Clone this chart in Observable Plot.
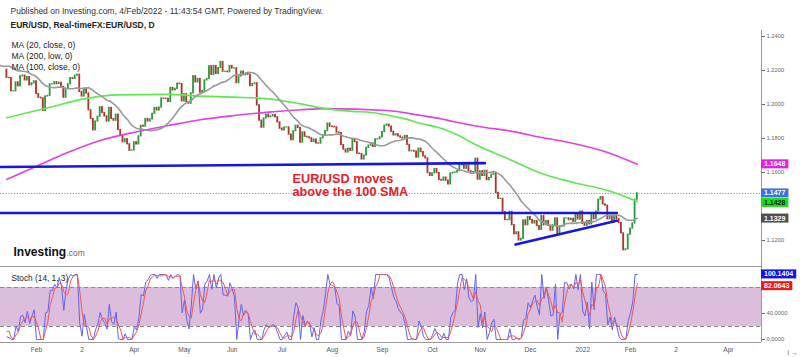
<!DOCTYPE html>
<html><head><meta charset="utf-8">
<script src="https://cdn.jsdelivr.net/npm/d3@7"></script>
<script src="https://cdn.jsdelivr.net/npm/@observablehq/plot@0.6"></script>
<style>
body{margin:0;background:#fff;}
#chart{width:800px;height:357px;position:relative;overflow:hidden;background:#fff}
#chart svg{display:block}
</style></head><body><div id="chart"></div>
<script>
// ---- data ----
const warmupCloses = [1.2150,1.2150,1.2195,1.2265,1.2255,1.2240,1.2165,1.2190,1.2185,1.2215,1.2250,1.2295,1.2215,1.2250,1.2295,1.2325,1.2270,1.2220,1.2150,1.2205];
const closes = [
 1.2157,1.2155,1.2078,1.2078,1.2130,1.2107,1.2166,1.2170,1.2142,1.2161,1.2113,1.2124,1.2136,
 1.2062,1.2040,1.2036,1.1962,1.2047,1.2051,1.2119,1.2119,1.2131,1.2120,1.2128,1.2104,1.2040,1.2092,1.2119,1.2155,1.2150,1.2170,1.2175,1.2074,
 1.2047,1.2092,1.2065,1.1966,1.1915,1.1848,1.1900,1.1928,1.1984,1.1950,1.1930,1.1900,1.1980,1.1915,1.1905,1.1940,1.1850,1.1815,1.1778,1.1796,1.1766,1.1728,1.1730,
 1.1778,1.1765,1.1813,1.1875,1.1870,1.1915,1.1900,1.1912,1.1945,1.1980,1.1965,1.1982,1.2035,1.2034,1.2033,1.2015,1.2097,1.2083,1.2092,1.2123,1.2120,1.2018,
 1.2060,1.2014,1.2005,1.2066,1.2166,1.2130,1.2150,1.2070,1.2080,1.2142,1.2150,1.2225,1.2175,1.2226,1.2180,1.2214,1.2250,1.2193,1.2193,1.2190,1.2227,
 1.2212,1.2213,1.2126,1.2165,1.2193,1.2172,1.2180,1.2175,1.2108,1.2120,1.2125,1.1995,1.1905,1.1864,1.1918,1.1940,1.1925,1.1930,1.1938,1.1925,1.1895,1.1858,
 1.1848,1.1865,1.1865,1.1823,1.1790,1.1843,1.1875,1.1862,1.1776,1.1836,1.1810,1.1807,1.1801,1.1780,1.1794,1.1771,1.1770,1.1801,1.1817,1.1844,1.1888,1.1870,
 1.1868,1.1866,1.1835,1.1832,1.1762,1.1735,1.1718,1.1740,1.1728,1.1793,1.1778,1.1711,1.1709,1.1677,1.1700,1.1745,1.1758,1.1770,1.1750,1.1795,1.1796,1.1807,
 1.1838,1.1875,1.1882,1.1870,1.1840,1.1818,1.1825,1.1812,1.1805,1.1800,1.1815,1.1763,1.1725,1.1727,1.1723,1.1688,1.1740,1.1720,1.1695,1.1683,1.1597,1.1580,
 1.1595,1.1620,1.1597,1.1556,1.1552,1.1570,1.1552,1.1530,1.1594,1.1598,1.1600,1.1608,1.1643,1.1650,1.1622,1.1642,1.1607,1.1600,1.1603,1.1681,1.1558,
 1.1607,1.1580,1.1610,1.1555,1.1568,1.1587,1.1594,1.1480,1.1445,1.1445,1.1367,1.1320,1.1320,1.1368,1.1290,1.1237,1.1248,1.1200,1.1210,1.1318,1.1290,1.1338,
 1.1320,1.1300,1.1315,1.1285,1.1263,1.1343,1.1290,1.1315,1.1286,1.1258,1.1290,1.1330,1.1240,1.1280,1.1283,1.1330,1.1330,1.1320,1.1328,1.1310,1.1350,1.1324,1.1370,
 1.1297,1.1287,1.1315,1.1295,1.1360,1.1325,1.1370,1.1440,1.1455,1.1412,1.1405,1.1325,1.1345,1.1312,1.1345,1.1326,1.1302,1.1242,1.1143,1.1148,1.1234,
 1.1270,1.1300,1.1440,1.1477
];
const ma100Idx = [0,19,34,49,70,85,100,115,129,140,152,160,174,182,191,199,205,220,235,249,264,277];
const ma100Val = [1.1922,1.1984,1.2033,1.2057,1.2059,1.2049,1.2043,1.2033,1.2004,1.1976,1.1960,1.1953,1.1918,1.1888,1.1859,1.1815,1.1770,1.1682,1.1594,1.1541,1.1494,1.1430];
const ma200Idx = [0,12,27,41,56,71,85,100,115,129,140,167,182,191,196,210,220,235,249,264,277];
const ma200Val = [1.1560,1.1631,1.1719,1.1788,1.1837,1.1876,1.1910,1.1935,1.1955,1.1969,1.1976,1.1965,1.1935,1.1915,1.1900,1.1865,1.1847,1.1806,1.1771,1.1718,1.1648];
const upperLineIdx = [-3, 210], upperLineVal = [1.1632, 1.1655];
const lowerLineIdx = [-3, 268], lowerLineVal = [1.1362, 1.1362];
const trendIdx = [223.5, 268], trendVal = [1.1176, 1.1316];
const tickMonths = ["2021-02","2021-03","2021-04","2021-05","2021-06","2021-07","2021-08","2021-09","2021-10","2021-11","2021-12","2022-01","2022-02","2022-03","2022-04"];
const tickLabels = ["Feb","2","Apr","May","Jun","Jul","Aug","Sep","Oct","Nov","Dec","2022","Feb","2","Apr"];
const priceTicks = [1.12,1.16,1.18,1.20,1.22,1.24];
const priceTags = ["1.1648","1.1477","1.1428","1.1329"];
const priceTagColors = ["#e61ee6","#3f6fe0","#12e312","#4f4f4f"];
const priceTagText = ["#fff","#fff","#111","#fff"];
const stochTicks = [0, 40];
const stochTags = ["100.1404","82.0643"];
const stochTagColors = ["#1212f0","#f01818"];

// ---- derived ----
const FONT = "'Liberation Sans', Arial, sans-serif";
const X_DOMAIN = [-2.81, 331.55];
const W = warmupCloses.length;
const allC = warmupCloses.concat(closes);
const allRows = allC.map((c, g) => ({i: g - W, c}));
const candles = closes.map((c, i) => ({i, o: allC[i + W - 1], c}));
const ma100 = ma100Idx.map((i, k) => ({i, v: ma100Val[k]}));
const ma200 = ma200Idx.map((i, k) => ({i, v: ma200Val[k]}));
const upper = upperLineIdx.map((i, k) => ({i, v: upperLineVal[k]}));
const lower = lowerLineIdx.map((i, k) => ({i, v: lowerLineVal[k]}));
const trend = trendIdx.map((i, k) => ({i, v: trendVal[k]}));
const lastClose = closes[closes.length - 1];

// trading calendar (weekdays) for the month ticks
const cal = [];
for (let d = new Date(Date.UTC(2021, 0, 13)); cal.length < 345; d.setUTCDate(d.getUTCDate() + 1)) {
  const wd = d.getUTCDay();
  if (wd === 0 || wd === 6) continue;
  cal.push(d.toISOString().slice(0, 7));
}
const tickIdx = tickMonths.map(m => cal.indexOf(m));
const labelMap = new Map(tickIdx.map((t, k) => [t, tickLabels[k]]));

// stochastic (14,1,3) from closes
const kArr = allC.map((c, g) => {
  const win = allC.slice(Math.max(0, g - 13), g + 1);
  const lo = d3.min(win), hi = d3.max(win);
  return hi > lo ? (c - lo) / (hi - lo) * 100 : 50;
});
const stochRows = closes.map((c, i) => {
  const g = i + W;
  return {i, k: kArr[g], d: d3.mean(kArr.slice(g - 2, g + 1))};
});

const UP = "#2b9a3c", DOWN = "#b0342a", BLUE = "#1616e4";
const txt = (s, o) => Plot.text([s], Object.assign({text: d => d, textAnchor: "start", lineAnchor: "bottom", fill: "#222", fontSize: 8.5}, o));

const main = Plot.plot({
  width: 800, height: 266, marginTop: 30, marginBottom: 0, marginLeft: 0, marginRight: 39,
  x: {domain: X_DOMAIN, axis: null},
  y: {domain: [1.10471, 1.24353], axis: null},
  style: {fontFamily: FONT, background: "#fff", overflow: "visible"},
  marks: [
    Plot.ruleY([lastClose], {stroke: "#4a6fdc", strokeWidth: 0.8, strokeDasharray: "1.2,1.6"}),
    Plot.rect(candles, {x1: d => d.i - 0.4, x2: d => d.i + 0.4, y1: "o", y2: "c",
      fill: d => d.c >= d.o ? UP : DOWN, insetTop: -0.6, insetBottom: -0.6, clip: true}),
    Plot.line(ma200, {x: "i", y: "v", stroke: "#e43ee4", strokeWidth: 1.6, curve: "monotone-x", clip: true}),
    Plot.line(ma100, {x: "i", y: "v", stroke: "#5fe852", strokeWidth: 1.7, curve: "monotone-x", clip: true}),
    Plot.line(allRows, Plot.windowY({k: 20, anchor: "end"}, {x: "i", y: "c", stroke: "#999999", strokeWidth: 1.6, clip: true})),
    Plot.line(upper, {x: "i", y: "v", stroke: BLUE, strokeWidth: 2.6, clip: true}),
    Plot.line(lower, {x: "i", y: "v", stroke: BLUE, strokeWidth: 2.6, clip: true}),
    Plot.line(trend, {x: "i", y: "v", stroke: BLUE, strokeWidth: 2.6, clip: true}),
    Plot.ruleX([X_DOMAIN[1]], {stroke: "#9a9a9a"}),
    Plot.axisY({anchor: "right", ticks: priceTicks, tickFormat: d => d.toFixed(4), tickSize: 3, tickPadding: 2, fontSize: 5.8, color: "#666"}),
    Plot.text(["EUR/USD moves\nabove the 100 SMA"], {x: 125.5, y: 1.1459, text: d => d, textAnchor: "start", lineAnchor: "bottom",
      lineHeight: 1.1, fill: "#e8202a", fontWeight: "bold", fontSize: 12.7}),
    txt("Published on Investing.com, 4/Feb/2022 - 11:43:54 GMT, Powered by TradingView.", {frameAnchor: "top-left", dx: 10, dy: -16.5, fill: "#333"}),
    txt("EUR/USD, Real-timeFX:EUR/USD, D", {frameAnchor: "top-left", dx: 10, dy: -2.3, fontWeight: "bold"}),
    txt("MA (20, close, 0)", {frameAnchor: "top-left", dx: 11, dy: 17}),
    txt("MA (200, low, 0)", {frameAnchor: "top-left", dx: 11, dy: 28}),
    txt("MA (100, close, 0)", {frameAnchor: "top-left", dx: 11, dy: 39}),
    txt("Investing", {frameAnchor: "bottom-left", dx: 13, dy: -10.3, fontSize: 12, fontWeight: "bold", fill: "#111"}),
    txt(".com", {frameAnchor: "bottom-left", dx: 66, dy: -10.3, fontSize: 8.5, fill: "#666"})
  ]
});

const stoch = Plot.plot({
  width: 800, height: 91, marginTop: 0, marginBottom: 15, marginLeft: 0, marginRight: 39,
  x: {domain: X_DOMAIN, axis: null},
  y: {domain: [-4.6, 112.3], axis: null},
  style: {fontFamily: FONT, background: "#fff", overflow: "visible"},
  marks: [
    Plot.rect([0], {y1: 20, y2: 80, fill: "#dcbddc"}),
    Plot.ruleY([20, 80], {stroke: "#8a8a8a", strokeDasharray: "4,3"}),
    Plot.line(stochRows, {x: "i", y: "k", stroke: "#6262f2", strokeWidth: 1, clip: true}),
    Plot.line(stochRows, {x: "i", y: "d", stroke: "#f25555", strokeWidth: 1, clip: true}),
    Plot.ruleY([112.3], {stroke: "#9a9a9a"}),
    Plot.ruleY([-4.6], {stroke: "#9a9a9a"}),
    Plot.ruleX([X_DOMAIN[1]], {stroke: "#9a9a9a"}),
    Plot.axisY({anchor: "right", ticks: stochTicks, tickFormat: d => d.toFixed(4), tickSize: 3, tickPadding: 2, fontSize: 5.8, color: "#666"}),
    Plot.axisX({anchor: "bottom", ticks: tickIdx, tickFormat: d => labelMap.get(d), tickSize: 0, tickPadding: 5, fontSize: 6.6, color: "#555"}),
    txt("Stoch (14, 1, 3)", {frameAnchor: "top-left", dx: 11, dy: 14, fontSize: 8.3})
  ]
});

const host = document.getElementById("chart");
host.appendChild(main);
host.appendChild(stoch);

function addTags(svg, tags, colors, textColors) {
  const ys = svg.scale("y"), xs = svg.scale("x");
  const x0 = xs.apply(X_DOMAIN[1]);
  const g = d3.select(svg).append("g").attr("font-family", FONT).attr("font-weight", "bold")
    .attr("font-size", 7).attr("text-anchor", "start");
  let prev = -Infinity;
  tags.map((t, k) => ({t, k, py: ys.apply(+t)})).sort((a, b) => a.py - b.py).forEach(o => {
    const py = Math.max(o.py, prev + 9.5); prev = py;
    const r = g.append("rect").attr("x", x0).attr("y", py - 4.5).attr("height", 9).attr("fill", colors[o.k]);
    const t = g.append("text").attr("x", x0 + 3).attr("y", py + 2.5).attr("text-anchor", "start")
      .attr("fill", textColors ? textColors[o.k] : "#fff").text(o.t);
    r.attr("width", t.node().getComputedTextLength() + 6);
  });
}
addTags(main, priceTags, priceTagColors, priceTagText);
addTags(stoch, stochTags, stochTagColors, null);
</script></body></html>
